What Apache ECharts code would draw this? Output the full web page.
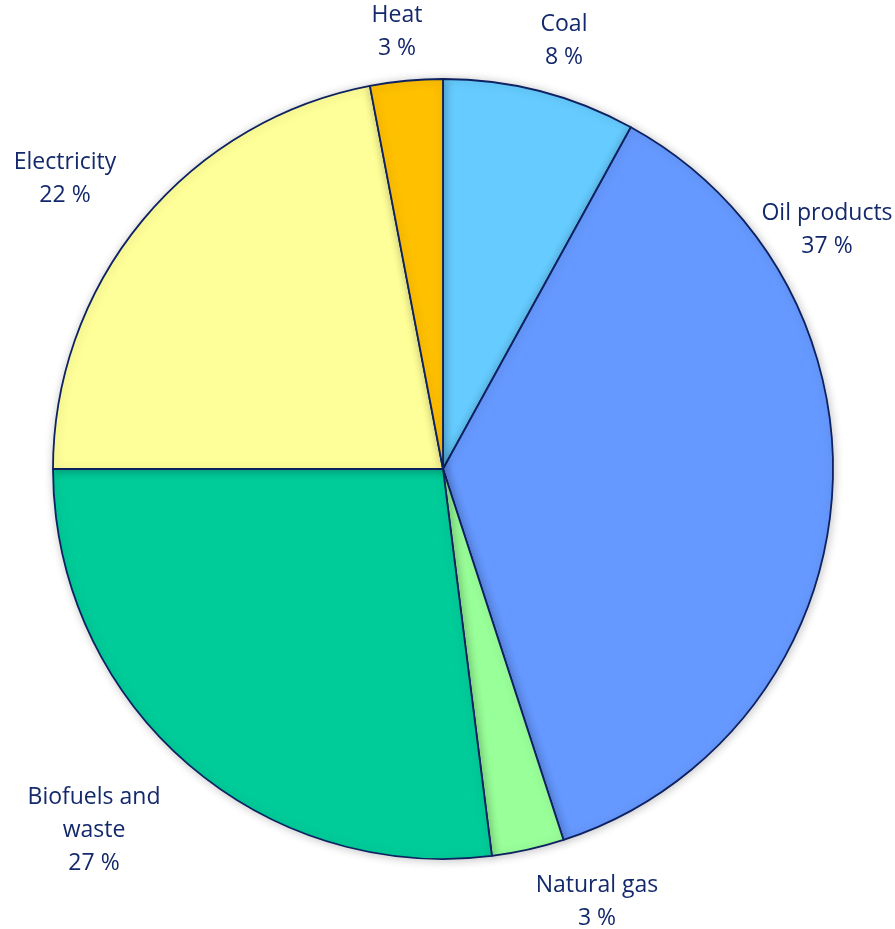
<!DOCTYPE html>
<html>
<head>
<meta charset="utf-8">
<title>Final energy consumption by source</title>
<script src="https://cdn.jsdelivr.net/npm/echarts@6/dist/echarts.min.js"></script>
<style>
  html, body { margin: 0; padding: 0; background: #ffffff; }
  #chart { width: 895px; height: 929px; }
</style>
</head>
<body>
<div id="chart"></div>
<script>
// Energy sources, clockwise from 12 o'clock
const categories = ['Coal', 'Oil products', 'Natural gas', 'Biofuels and\nwaste', 'Electricity', 'Heat'];
const shares = [8, 37, 3, 27, 22, 3];

const sliceColors = ['#66CCFF', '#6699FF', '#99FF99', '#00CC99', '#FFFF99', '#FFC000'];
const textColor = '#14296B';

// Label anchor points (centre of text block, top edge) in pixels
const labelAnchors = [
  [564, 8],
  [827, 197],
  [597, 869],
  [94, 781],
  [65, 146],
  [397, -1]
];

const chart = echarts.init(document.getElementById('chart'), null, { renderer: 'canvas' });

chart.setOption({
  backgroundColor: '#ffffff',
  animation: false,
  series: [{
    type: 'pie',
    center: [443, 469],
    radius: 390,
    startAngle: 90,
    clockwise: true,
    avoidLabelOverlap: false,
    data: categories.map((name, i) => ({
      name: name,
      value: shares[i],
      itemStyle: { color: sliceColors[i] }
    })),
    itemStyle: {
      borderColor: '#0E2161',
      borderWidth: 1.8,
      shadowBlur: 10,
      shadowColor: 'rgba(0,0,0,0.22)',
      shadowOffsetX: 1,
      shadowOffsetY: 1
    },
    label: {
      show: true,
      position: 'outside',
      formatter: p => p.name + '\n' + p.value + ' %',
      color: textColor,
      fontFamily: 'Open Sans',
      fontSize: 23,
      lineHeight: 33,
      align: 'center'
    },
    labelLine: { show: false },
    labelLayout: params => ({
      x: labelAnchors[params.dataIndex][0],
      y: labelAnchors[params.dataIndex][1],
      align: 'center',
      verticalAlign: 'top'
    }),
    emphasis: { disabled: true }
  }]
});
</script>
</body>
</html>
